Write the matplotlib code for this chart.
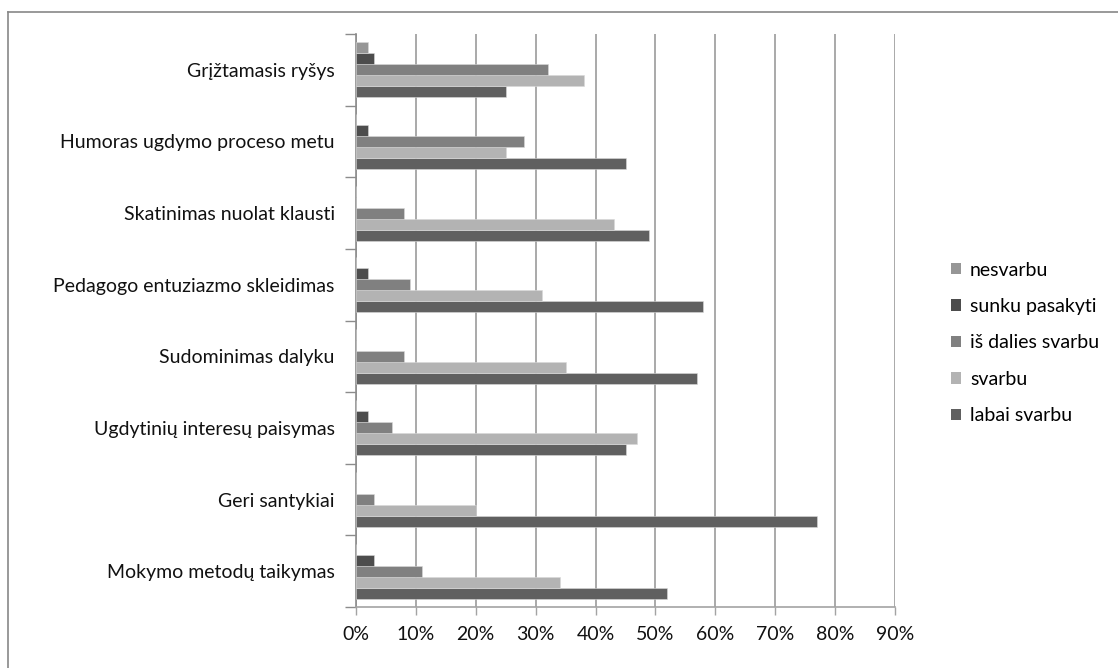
import matplotlib
matplotlib.use("Agg")
import matplotlib.pyplot as plt
from matplotlib.lines import Line2D
from matplotlib.patches import Patch
import numpy as np

plt.rcParams['font.family'] = ['Lato', 'DejaVu Sans']

# Categories listed from the bottom of the chart upwards
categories = [
    "Mokymo metodų taikymas",
    "Geri santykiai",
    "Ugdytinių interesų paisymas",
    "Sudominimas dalyku",
    "Pedagogo entuziazmo skleidimas",
    "Skatinimas nuolat klausti",
    "Humoras ugdymo proceso metu",
    "Grįžtamasis ryšys",
]

# Shares (%) for each answer option, same order as categories
labai_svarbu = [52, 77, 45, 57, 58, 49, 45, 25]
svarbu = [34, 20, 47, 35, 31, 43, 25, 38]
is_dalies_svarbu = [11, 3, 6, 8, 9, 8, 28, 32]
sunku_pasakyti = [3, 0, 2, 0, 2, 0, 2, 3]
nesvarbu = [0, 0, 0, 0, 0, 0, 0, 2]

series_labels = ["labai svarbu", "svarbu", "iš dalies svarbu", "sunku pasakyti", "nesvarbu"]
series_values = [labai_svarbu, svarbu, is_dalies_svarbu, sunku_pasakyti, nesvarbu]
series_colors = ["#606060", "#b3b3b3", "#808080", "#4d4d4d", "#969696"]

x_ticks = [0, 10, 20, 30, 40, 50, 60, 70, 80, 90]

FS = 14
W, H = 1118, 668
fig = plt.figure(figsize=(W / 100, H / 100), dpi=100)
ax = fig.add_axes([355.7 / W, 1 - 607 / H, (895.3 - 355.7) / W, (607 - 34) / H])

n = len(categories)
bar_h = 0.1536
centers = np.arange(n) + 0.5
for k, (vals, col) in enumerate(zip(series_values, series_colors)):
    y = centers + (k - 2) * bar_h
    ax.barh(y, np.array(vals) / 100.0, height=bar_h, color=col,
            edgecolor="#d9d9d9", linewidth=0.4, zorder=3)

ax.set_xlim(0, 0.9)
ax.set_ylim(0, n)

# x axis: percentage ticks with vertical gridlines
ax.set_xticks(np.array(x_ticks) / 100.0)
ax.set_xticklabels([f"{t}%" for t in x_ticks], fontsize=FS, color="#111111")
ax.xaxis.grid(True, color="#a3a3a3", linewidth=1.3, zorder=0)
ax.tick_params(axis="x", length=6, width=1.0, color="#a3a3a3", pad=8)

# y axis: ticks on category boundaries, labels at category centres
ax.set_yticks(np.arange(n + 1))
ax.set_yticklabels([])
ax.set_yticks(centers, minor=True)
ax.set_yticklabels(categories, minor=True, fontsize=FS, color="#111111")
ax.tick_params(axis="y", which="major", length=8, width=1.0, color="#8c8c8c", direction="out")
ax.tick_params(axis="y", which="minor", length=0, pad=15)

for side in ("top", "right"):
    ax.spines[side].set_visible(False)
ax.spines["left"].set_color("#8c8c8c")
ax.spines["left"].set_linewidth(1.2)
ax.spines["bottom"].set_color("#a3a3a3")
ax.spines["bottom"].set_linewidth(1.2)
ax.set_axisbelow(True)

# Legend, top entry first
handles = [Patch(facecolor=c, edgecolor="none") for c in series_colors[::-1]]
fig.legend(handles, series_labels[::-1], loc="center left",
           bbox_to_anchor=(951 / W, 1 - 343 / H), frameon=False,
           fontsize=FS, handlelength=0.52, handleheight=0.52,
           handletextpad=0.46, labelspacing=1.0, borderpad=0, borderaxespad=0)

# Chart area border (top and left edges)
fig.add_artist(Line2D([8 / W, 1.0], [1 - 12 / H, 1 - 12 / H], color="#878787", linewidth=1.2,
                      transform=fig.transFigure))
fig.add_artist(Line2D([8 / W, 8 / W], [0.0, 1 - 12 / H], color="#878787", linewidth=1.2,
                      transform=fig.transFigure))

fig.savefig("out.png", dpi=100, facecolor="white")
